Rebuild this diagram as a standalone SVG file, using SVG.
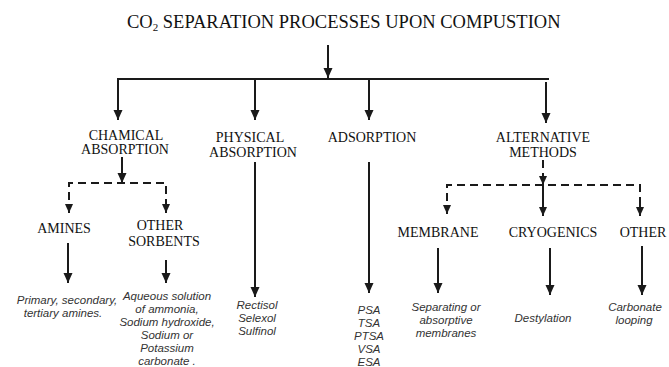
<svg xmlns="http://www.w3.org/2000/svg" width="669" height="367" viewBox="0 0 669 367">
<defs>
<style>
.t{font-family:"Liberation Serif","Times New Roman",serif;font-size:14px;fill:#111;text-anchor:middle}
.h{font-family:"Liberation Serif","Times New Roman",serif;font-size:18.5px;fill:#111}
.i{font-family:"Liberation Sans",Arial,sans-serif;font-style:italic;font-size:11.5px;fill:#333;text-anchor:middle}
.l{stroke:#1a1a1a;stroke-width:2;fill:none}
.d{stroke:#1a1a1a;stroke-width:2;fill:none;stroke-dasharray:8 5}
</style>
<marker id="a" markerUnits="userSpaceOnUse" markerWidth="10" markerHeight="10" refX="10" refY="5" orient="auto"><path d="M0,0.5 L10,5 L0,9.5 z" fill="#1a1a1a"/></marker>
<marker id="s" markerUnits="userSpaceOnUse" markerWidth="9" markerHeight="9" refX="9" refY="4.5" orient="auto"><path d="M0,0.5 L9,4.5 L0,8.5 z" fill="#1a1a1a"/></marker>
</defs>
<rect width="669" height="367" fill="#fff"/>
<g id="title"><text class="h" x="127" y="28">CO<tspan style="font-size:11px" dy="3">2</tspan><tspan dy="-3"> SEPARATION PROCESSES UPON COMPUSTION</tspan></text></g>
<g id="connectors">
<line class="l" x1="328" y1="45" x2="328" y2="78" marker-end="url(#a)"/>
<line class="l" x1="117" y1="79" x2="549" y2="79" stroke-width="2.4"/>
<line class="l" x1="118" y1="79" x2="118" y2="120" marker-end="url(#a)"/>
<line class="l" x1="255" y1="79" x2="255" y2="120" marker-end="url(#a)"/>
<line class="l" x1="369" y1="79" x2="369" y2="120" marker-end="url(#a)"/>
<line class="l" x1="546" y1="82" x2="546" y2="123" marker-end="url(#a)"/>
<line class="l" x1="122" y1="157" x2="122" y2="183" marker-end="url(#a)"/>
<path class="d" d="M69,213 V183 H166 V213"/>
<line class="l" x1="69" y1="204" x2="69" y2="213" marker-end="url(#s)"/>
<line class="l" x1="166" y1="204" x2="166" y2="213" marker-end="url(#s)"/>
<line class="d" x1="543" y1="160" x2="543" y2="185" stroke-dasharray="7 4"/>
<line class="l" x1="543" y1="176" x2="543" y2="185" marker-end="url(#s)"/>
<path class="d" d="M447,214 V185 H640 V214"/>
<line class="l" x1="543" y1="185" x2="543" y2="216" marker-end="url(#s)"/>
<line class="l" x1="447" y1="205" x2="447" y2="214" marker-end="url(#s)"/>
<line class="l" x1="640" y1="205" x2="640" y2="216" marker-end="url(#s)"/>
<line class="l" x1="255" y1="162" x2="255" y2="297" marker-end="url(#a)"/>
<line class="l" x1="369" y1="162" x2="369" y2="293" marker-end="url(#a)"/>
<line class="l" x1="68" y1="243" x2="68" y2="283" marker-end="url(#a)"/>
<line class="l" x1="166" y1="260" x2="166" y2="283" marker-end="url(#a)"/>
<line class="l" x1="438" y1="248" x2="438" y2="293" marker-end="url(#a)"/>
<line class="l" x1="550" y1="248" x2="550" y2="295" marker-end="url(#a)"/>
<line class="l" x1="642" y1="246" x2="642" y2="295" marker-end="url(#a)"/>
</g>
<g id="chemical"><text class="t" x="126" y="140">CHAMICAL</text><text class="t" x="125" y="154">ABSORPTION</text></g>
<g id="physical"><text class="t" x="250" y="142">PHYSICAL</text><text class="t" x="253" y="157">ABSORPTION</text></g>
<g id="adsorption"><text class="t" x="372" y="142">ADSORPTION</text></g>
<g id="alternative"><text class="t" x="543" y="142">ALTERNATIVE</text><text class="t" x="543" y="157">METHODS</text></g>
<g id="amines"><text class="t" x="64" y="233">AMINES</text></g>
<g id="othersorbents"><text class="t" x="160" y="230">OTHER</text><text class="t" x="164" y="246">SORBENTS</text></g>
<g id="membrane"><text class="t" x="438" y="237">MEMBRANE</text></g>
<g id="cryogenics"><text class="t" x="553" y="237">CRYOGENICS</text></g>
<g id="other"><text class="t" x="643" y="237">OTHER</text></g>
<g id="amines-desc"><text class="i" x="67" y="304">Primary, secondary,</text><text class="i" x="63" y="317">tertiary amines.</text></g>
<g id="sorbents-desc">
<text class="i" x="167" y="300">Aqueous solution</text>
<text class="i" x="167" y="313">of ammonia,</text>
<text class="i" x="167" y="326">Sodium hydroxide,</text>
<text class="i" x="167" y="339">Sodium or</text>
<text class="i" x="167" y="352">Potassium</text>
<text class="i" x="167" y="365">carbonate .</text>
</g>
<g id="physical-desc"><text class="i" x="257" y="309">Rectisol</text><text class="i" x="257" y="322">Selexol</text><text class="i" x="257" y="335">Sulfinol</text></g>
<g id="adsorption-desc">
<text class="i" x="369" y="314">PSA</text>
<text class="i" x="369" y="327">TSA</text>
<text class="i" x="369" y="340">PTSA</text>
<text class="i" x="369" y="353">VSA</text>
<text class="i" x="369" y="366">ESA</text>
</g>
<g id="membrane-desc"><text class="i" x="446" y="311">Separating or</text><text class="i" x="446" y="324">absorptive</text><text class="i" x="446" y="337">membranes</text></g>
<g id="cryo-desc"><text class="i" x="543" y="322">Destylation</text></g>
<g id="other-desc"><text class="i" x="635" y="311">Carbonate</text><text class="i" x="634" y="324">looping</text></g>
</svg>
